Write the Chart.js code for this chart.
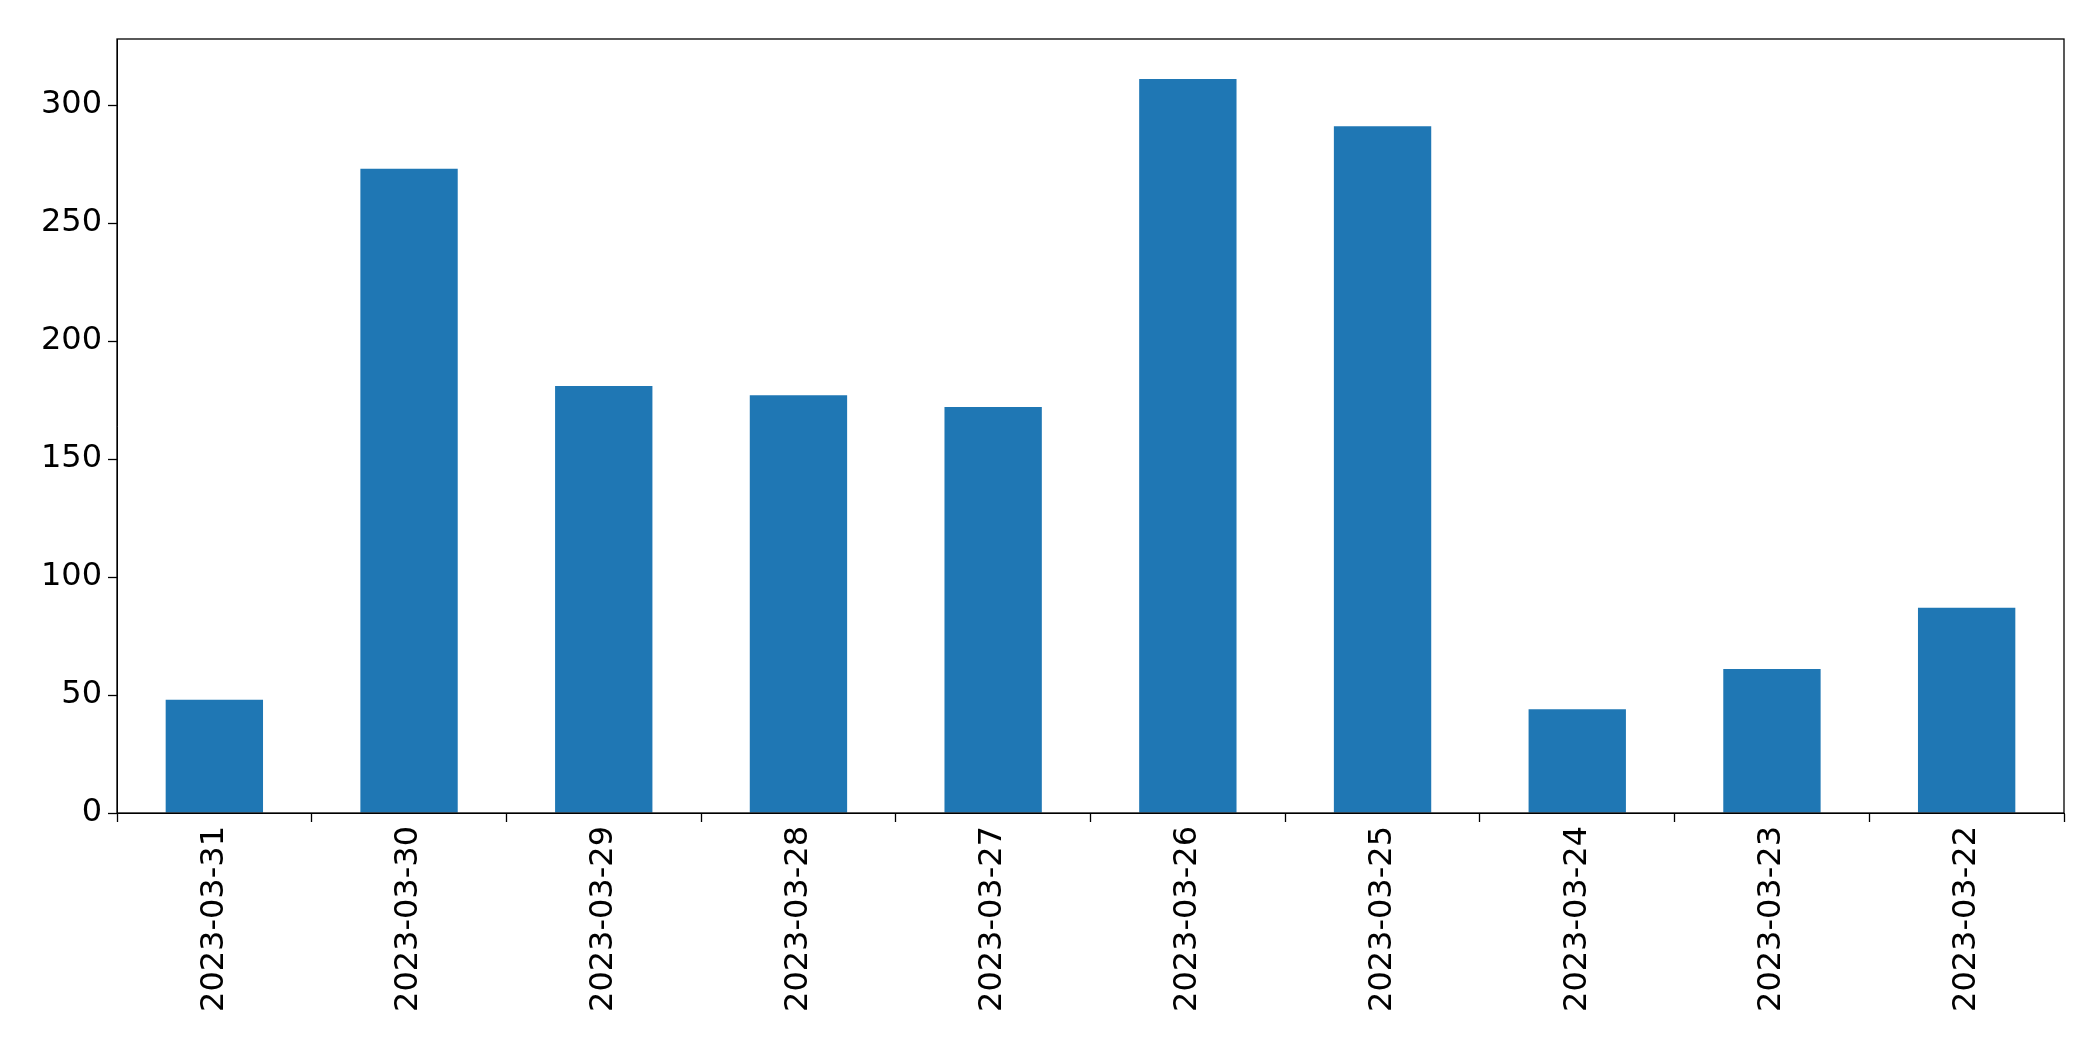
<!DOCTYPE html>
<html><head><script src="https://cdn.jsdelivr.net/npm/chart.js"></script>
<style>html,body{margin:0;padding:0;background:#fff}</style></head>
<body><div style="width:2093px;height:1061px"><canvas id="c"></canvas></div>
<script>
const categories=["2023-03-31","2023-03-30","2023-03-29","2023-03-28","2023-03-27","2023-03-26","2023-03-25","2023-03-24","2023-03-23","2023-03-22"];
const values=[48,273,181,177,172,311,291,44,61,87];
const yTicks=[0,50,100,150,200,250,300];
const frame={id:'frame',afterDraw(c){const a=c.chartArea,x=c.ctx;x.save();x.strokeStyle='#000';x.lineWidth=1.3;x.strokeRect(a.left,a.top,a.right-a.left,a.bottom-a.top);x.restore();}};
new Chart(document.getElementById('c'),{type:'bar',
data:{labels:categories,datasets:[{data:values,backgroundColor:'#1f77b4',categoryPercentage:1,barPercentage:0.5}]},
options:{responsive:true,maintainAspectRatio:false,animation:false,
layout:{padding:{top:39,right:29,left:0,bottom:0}},
plugins:{legend:{display:false},tooltip:{enabled:false}},
scales:{
x:{grid:{drawOnChartArea:false,color:'#000',tickLength:9,tickWidth:1.3},border:{color:'#000'},
ticks:{color:'#000',font:{family:'DejaVu Sans',size:32},maxRotation:90,minRotation:90,padding:4},
afterFit(s){s.height=248;}},
y:{min:0,max:328,grid:{drawOnChartArea:false,color:'#000',tickLength:9,tickWidth:1.3},border:{color:'#000'},
afterBuildTicks(s){s.ticks=yTicks.map(v=>({value:v}));},
ticks:{color:'#000',font:{family:'DejaVu Sans',size:32},padding:6},
afterFit(s){s.width=117;}}}},
plugins:[frame]});
</script></body></html>
